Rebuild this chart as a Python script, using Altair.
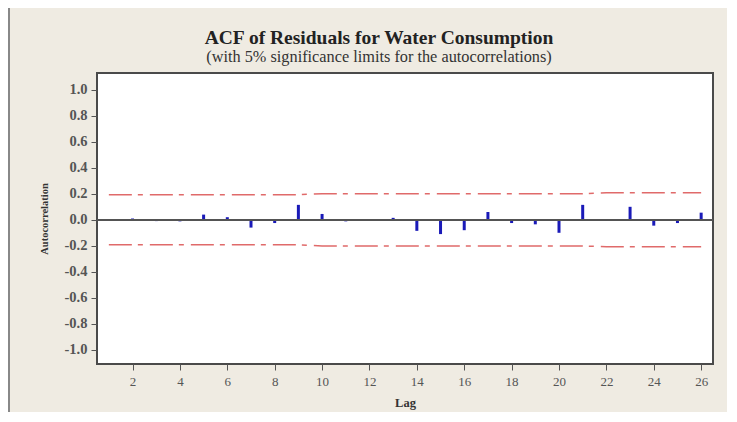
import altair as alt
import pandas as pd

lags = list(range(1, 27))
acf = [0.0, 0.01, -0.01, -0.012, 0.04, 0.02, -0.06, -0.025, 0.115, 0.045,
       -0.012, 0.0, 0.015, -0.085, -0.11, -0.08, 0.06, -0.025, -0.035, -0.10,
       0.115, -0.008, 0.10, -0.045, -0.025, 0.055]
upper = [0.193] * 9 + [0.201] * 12 + [0.208] * 5
lower = [-v for v in upper]

y_ticks = [-1.0, -0.8, -0.6, -0.4, -0.2, 0.0, 0.2, 0.4, 0.6, 0.8, 1.0]
x_ticks = [2, 4, 6, 8, 10, 12, 14, 16, 18, 20, 22, 24, 26]

df = pd.DataFrame({"lag": lags, "acf": acf, "upper": upper, "lower": lower})

W, H = 616, 291
serif = "Liberation Serif"

xs = alt.Scale(domain=[0.5, 26.5], nice=False, zero=False)
ys = alt.Scale(domain=[-1.11, 1.13], nice=False, zero=False)

x_axis = alt.Axis(values=x_ticks, tickCount=len(x_ticks), title="Lag",
                  labelFont=serif, labelFontSize=13,
                  labelColor="#555", tickColor="#555", tickSize=6, domain=False,
                  grid=False, labelPadding=5, titleFont=serif, titleFontSize=12.5,
                  titleFontWeight="bold", titleColor="#333", titlePadding=8,
                  labelFlush=False, labelOverlap=False)
y_axis = alt.Axis(values=y_ticks, tickCount=len(y_ticks), title="Autocorrelation",
                  labelExpr="replace(format(datum.value, '.1f'), '\u2212', '-')",
                  labelFont=serif, labelFontSize=14.5, labelFontWeight="bold",
                  labelColor="#555", tickColor="#555", tickSize=6, domain=False,
                  grid=False, labelPadding=4, titleFont=serif, titleFontSize=10.5,
                  titleFontWeight="bold", titleColor="#333", titleX=-53,
                  titleY=H / 2, titleAngle=270, titleAlign="center",
                  titleBaseline="middle", labelFlush=False, labelOverlap=False)

base = alt.Chart(df)

bars = base.mark_rule(color="#1a1ab8", strokeWidth=3).encode(
    x=alt.X("lag:Q", scale=xs, axis=x_axis),
    y=alt.Y("acf:Q", scale=ys, axis=y_axis),
    y2=alt.datum(0),
)

zero = base.mark_rule(color="#555", strokeWidth=1.2).encode(
    y=alt.datum(0),
)

dash = [23, 6, 5, 7]
up = base.mark_line(color="#e06a6a", strokeWidth=1.5, strokeDash=dash).encode(
    x=alt.X("lag:Q", scale=xs, axis=x_axis), y=alt.Y("upper:Q", scale=ys, axis=y_axis))
lo = base.mark_line(color="#e06a6a", strokeWidth=1.5, strokeDash=dash).encode(
    x=alt.X("lag:Q", scale=xs, axis=x_axis), y=alt.Y("lower:Q", scale=ys, axis=y_axis))

frame_top = base.mark_rule(color="#666", strokeWidth=2).encode(
    x=alt.value(-88), x2=alt.value(W + 16), y=alt.value(-66))
frame_left = base.mark_rule(color="#888", strokeWidth=2).encode(
    x=alt.value(-88), y=alt.value(-66), y2=alt.value(H + 56))

chart = alt.layer(bars, zero, up, lo, frame_top, frame_left).properties(
    width=W, height=H,
    autosize=alt.AutoSizeParams(type="none"),
    padding={"left": 89, "top": 65, "right": 14, "bottom": 48},
    background="#efebe2",
    title=alt.TitleParams(
        text="ACF of Residuals for Water Consumption",
        subtitle="(with 5% significance limits for the autocorrelations)",
        font=serif, fontSize=19.5, fontWeight="bold", color="#222",
        subtitleFont=serif, subtitleFontSize=16.3, subtitleColor="#333",
        anchor="middle", frame="group", dx=-26, dy=69, offset=9, subtitlePadding=0,
    ),
).configure_view(stroke="#4a4a4a", strokeWidth=2, fill="white").configure_axis(
    labelOverlap=False
)

chart.save("out.html", embed_options={"renderer": "svg", "actions": False})
